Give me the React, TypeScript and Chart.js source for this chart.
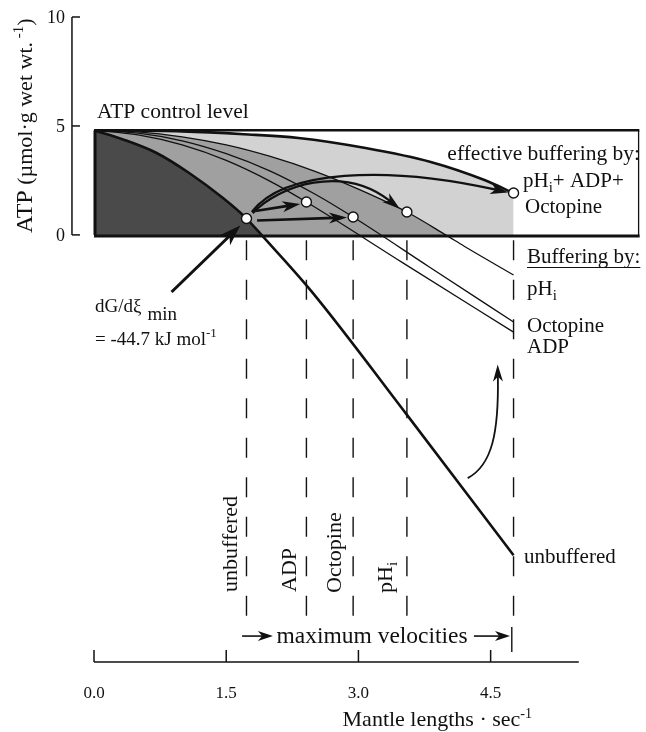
import React, { useEffect, useRef } from "react";
import { Chart, registerables } from "chart.js";

Chart.register(...registerables);

type Pt = { x: number; y: number };

// ---- data (x: mantle lengths · sec^-1, y: ATP µmol·g wet wt^-1) ----
const unbufferedCurve: Pt[] = [
  { x: 0, y: 4.8 }, { x: 0.33, y: 4.38 }, { x: 0.71, y: 3.76 }, { x: 1.08, y: 2.84 },
  { x: 1.46, y: 1.7 }, { x: 1.73, y: 0.75 }, { x: 1.9, y: 0 }, { x: 2.47, y: -2.6 },
  { x: 3.54, y: -8.2 }, { x: 4.76, y: -14.7 },
];
const adpCurve: Pt[] = [
  { x: 0, y: 4.8 }, { x: 0.5, y: 4.59 }, { x: 1.0, y: 4.13 }, { x: 1.5, y: 3.42 },
  { x: 2.0, y: 2.46 }, { x: 2.41, y: 1.51 }, { x: 3.5, y: -1.27 }, { x: 4.76, y: -4.46 },
];
const octopineCurve: Pt[] = [
  { x: 0, y: 4.8 }, { x: 0.5, y: 4.67 }, { x: 1.0, y: 4.32 }, { x: 1.5, y: 3.73 },
  { x: 2.0, y: 2.93 }, { x: 2.5, y: 1.89 }, { x: 2.94, y: 0.82 }, { x: 3.8, y: -1.46 },
  { x: 4.76, y: -4.0 },
];
const phiCurve: Pt[] = [
  { x: 0, y: 4.8 }, { x: 0.5, y: 4.73 }, { x: 1.0, y: 4.5 }, { x: 1.5, y: 4.13 },
  { x: 2.0, y: 3.6 }, { x: 2.5, y: 2.93 }, { x: 3.0, y: 2.1 }, { x: 3.55, y: 1.05 },
  { x: 3.99, y: 0 }, { x: 4.2, y: -0.52 }, { x: 4.76, y: -1.84 },
];
const effectiveCurve: Pt[] = [
  { x: 0, y: 4.8 }, { x: 1.0, y: 4.75 }, { x: 1.7, y: 4.62 }, { x: 2.32, y: 4.45 },
  { x: 3.08, y: 3.99 }, { x: 3.82, y: 3.35 }, { x: 4.43, y: 2.52 }, { x: 4.76, y: 1.92 },
];
const minimumPoints: Pt[] = [
  { x: 1.73, y: 0.75 }, { x: 2.41, y: 1.51 }, { x: 2.94, y: 0.82 }, { x: 3.55, y: 1.05 }, { x: 4.76, y: 1.92 },
];
const atpControlLevel = 4.8;
const boxRightX = 6.19;
const atpControlLine: Pt[] = [{ x: 0, y: atpControlLevel }, { x: boxRightX, y: atpControlLevel }];
const maxVelocities = [1.73, 2.41, 2.94, 3.55, 4.76];
const maxVelocityLabels = ["unbuffered", "ADP", "Octopine", "pHi"];
const xTicks = [0, 1.5, 3.0, 4.5];
const xTickLabels = ["0.0", "1.5", "3.0", "4.5"];
const yTicks = [0, 5, 10];
const yTickLabels = ["0", "5", "10"];

// ---- layout / styles ----
const W = 646;
const H = 732;
const SERIF = "'Liberation Serif', 'Times New Roman', serif";
const INK = "#111";
const LIGHT = "#d2d2d2";
const MEDIUM = "#a0a0a0";
const DARK = "#4a4a4a";

type Run = { t: string; s: number; dy?: number };
function runsWidth(ctx: CanvasRenderingContext2D, runs: Run[]) {
  let w = 0;
  for (const r of runs) {
    ctx.font = `${r.s}px ${SERIF}`;
    w += ctx.measureText(r.t).width;
  }
  return w;
}
function drawRuns(ctx: CanvasRenderingContext2D, x: number, y: number, runs: Run[]) {
  let cx = x;
  ctx.textAlign = "left";
  ctx.textBaseline = "alphabetic";
  for (const r of runs) {
    ctx.font = `${r.s}px ${SERIF}`;
    ctx.fillText(r.t, cx, y + (r.dy || 0));
    cx += ctx.measureText(r.t).width;
  }
  return cx;
}
function head(ctx: CanvasRenderingContext2D, x: number, y: number, ang: number, len: number, half: number) {
  ctx.save();
  ctx.translate(x, y);
  ctx.rotate(ang);
  ctx.beginPath();
  ctx.moveTo(0, 0);
  ctx.lineTo(-len, -half);
  ctx.lineTo(-len * 0.72, 0);
  ctx.lineTo(-len, half);
  ctx.closePath();
  ctx.fill();
  ctx.restore();
}
function straightArrow(ctx: CanvasRenderingContext2D, x0: number, y0: number, x1: number, y1: number, w: number, len: number, half: number) {
  const a = Math.atan2(y1 - y0, x1 - x0);
  ctx.lineWidth = w;
  ctx.beginPath();
  ctx.moveTo(x0, y0);
  ctx.lineTo(x1 - Math.cos(a) * len * 0.7, y1 - Math.sin(a) * len * 0.7);
  ctx.stroke();
  head(ctx, x1, y1, a, len, half);
}
function curvedArrow(ctx: CanvasRenderingContext2D, p: number[][], w: number, len: number, half: number) {
  const [p0, p1, p2, p3] = p;
  const a = Math.atan2(p3[1] - p2[1], p3[0] - p2[0]);
  const dx = Math.cos(a) * len * 0.7, dy = Math.sin(a) * len * 0.7;
  ctx.lineWidth = w;
  ctx.beginPath();
  ctx.moveTo(p0[0], p0[1]);
  ctx.bezierCurveTo(p1[0], p1[1], p2[0] - dx, p2[1] - dy, p3[0] - dx, p3[1] - dy);
  ctx.stroke();
  head(ctx, p3[0], p3[1], a, len, half);
}

// annotation geometry in data units
const arcToEffective = [[1.79, 1.05], [2.15, 2.98], [3.45, 3.07], [4.70, 1.95]];
const arcToPhi = [[1.80, 1.0], [2.10, 2.29], [2.94, 2.89], [3.47, 1.20]];
const arrowToAdp = [[1.83, 1.10], [2.34, 1.42]];
const arrowToOctopine = [[1.85, 0.66], [2.87, 0.80]];
const arrowFromLabel = [[0.88, -2.62], [1.66, 0.43]];
const arcUp = [[4.24, -11.16], [4.52, -10.56], [4.59, -8.49], [4.58, -5.95]];

const diagramPlugin = {
  id: "diagram",
  beforeDraw(chart: any) {
    const ctx = chart.ctx;
    ctx.save();
    ctx.fillStyle = "#fff";
    ctx.fillRect(0, 0, chart.width, chart.height);
    ctx.restore();
  },
  beforeDatasetsDraw(chart: any) {
    const ctx: CanvasRenderingContext2D = chart.ctx;
    const X = (v: number) => chart.scales.x.getPixelForValue(v);
    const Y = (v: number) => chart.scales.y.getPixelForValue(v);
    const P = (arr: number[][]) => arr.map((q) => [X(q[0]), Y(q[1])]);
    ctx.save();
    ctx.strokeStyle = INK;
    ctx.fillStyle = INK;
    ctx.lineCap = "butt";
    curvedArrow(ctx, P(arcToEffective), 2.3, 18, 5.5);
    curvedArrow(ctx, P(arcToPhi), 2.3, 18, 5.5);
    let s = P(arrowToAdp);
    straightArrow(ctx, s[0][0], s[0][1], s[1][0], s[1][1], 2.6, 18, 5.5);
    s = P(arrowToOctopine);
    straightArrow(ctx, s[0][0], s[0][1], s[1][0], s[1][1], 2.6, 18, 5.5);
    ctx.restore();
  },
  afterDatasetsDraw(chart: any) {
    const ctx: CanvasRenderingContext2D = chart.ctx;
    const X = (v: number) => chart.scales.x.getPixelForValue(v);
    const Y = (v: number) => chart.scales.y.getPixelForValue(v);
    const P = (arr: number[][]) => arr.map((q) => [X(q[0]), Y(q[1])]);
    ctx.save();
    ctx.strokeStyle = INK;
    ctx.fillStyle = INK;

    // box edges
    ctx.lineWidth = 3;
    ctx.beginPath();
    ctx.moveTo(X(0) + 1, Y(atpControlLevel));
    ctx.lineTo(X(0) + 1, Y(0));
    ctx.stroke();
    ctx.beginPath();
    ctx.moveTo(X(0), Y(0) + 1);
    ctx.lineTo(X(boxRightX), Y(0) + 1);
    ctx.stroke();
    ctx.lineWidth = 1.3;
    ctx.beginPath();
    ctx.moveTo(X(boxRightX) - 1, Y(atpControlLevel));
    ctx.lineTo(X(boxRightX) - 1, Y(0) + 2);
    ctx.stroke();

    // dashed maximum-velocity lines
    ctx.lineWidth = 1.4;
    ctx.setLineDash([20, 19.5]);
    for (const v of maxVelocities) {
      ctx.beginPath();
      ctx.moveTo(X(v), Y(-0.25));
      ctx.lineTo(X(v), Y(-17.5));
      ctx.stroke();
    }
    ctx.setLineDash([]);

    // arrows outside the box
    const e = P(arrowFromLabel);
    straightArrow(ctx, e[0][0], e[0][1], e[1][0], e[1][1], 3, 21, 7);
    curvedArrow(ctx, P(arcUp), 1.8, 17, 5);

    // y axis
    ctx.lineWidth = 1.5;
    const yAxX = X(-0.25);
    ctx.beginPath();
    ctx.moveTo(yAxX, Y(10));
    ctx.lineTo(yAxX, Y(0));
    ctx.stroke();
    for (const t of yTicks) {
      ctx.beginPath();
      ctx.moveTo(yAxX, Y(t));
      ctx.lineTo(yAxX + 8, Y(t));
      ctx.stroke();
    }
    ctx.font = `18px ${SERIF}`;
    ctx.textAlign = "right";
    ctx.textBaseline = "middle";
    yTicks.forEach((t, i) => ctx.fillText(yTickLabels[i], yAxX - 7, Y(t) + 1));

    // x axis
    const xAxY = Y(-19.6);
    ctx.beginPath();
    ctx.moveTo(X(0), xAxY);
    ctx.lineTo(X(5.5), xAxY);
    ctx.stroke();
    for (const t of xTicks) {
      ctx.beginPath();
      ctx.moveTo(X(t), xAxY);
      ctx.lineTo(X(t), xAxY - 12);
      ctx.stroke();
    }
    ctx.font = `17px ${SERIF}`;
    ctx.textAlign = "center";
    ctx.textBaseline = "alphabetic";
    xTicks.forEach((t, i) => ctx.fillText(xTickLabels[i], X(t), xAxY + 36));

    // maximum velocities bar
    const mvY = Y(-18.41);
    straightArrow(ctx, X(1.68), mvY, X(2.03), mvY, 1.6, 15, 5);
    straightArrow(ctx, X(4.31), mvY, X(4.72), mvY, 1.6, 15, 5);
    ctx.lineWidth = 1.4;
    ctx.beginPath();
    ctx.moveTo(X(4.74), Y(-17.99));
    ctx.lineTo(X(4.74), Y(-19.14));
    ctx.stroke();
    drawRuns(ctx, X(2.07), mvY + 7, [{ t: "maximum velocities", s: 23.5 }]);

    // x title
    const xt: Run[] = [{ t: "Mantle lengths · sec", s: 22 }, { t: "-1", s: 14, dy: -8 }];
    drawRuns(ctx, 532 - runsWidth(ctx, xt), 726, xt);

    // y title (rotated)
    ctx.save();
    ctx.translate(32, 233);
    ctx.rotate(-Math.PI / 2);
    drawRuns(ctx, 0, 0, [
      { t: "ATP", s: 24 },
      { t: " (µmol·g wet wt.", s: 22 },
      { t: " -1", s: 15, dy: -9 },
      { t: ")", s: 22 },
    ]);
    ctx.restore();

    // rotated max-velocity labels
    const rot = [
      { x: X(1.73) - 9, y: 592, runs: [{ t: maxVelocityLabels[0], s: 22 }] },
      { x: X(2.41) - 10, y: 592, runs: [{ t: maxVelocityLabels[1], s: 22 }] },
      { x: X(2.94) - 12, y: 593, runs: [{ t: maxVelocityLabels[2], s: 22 }] },
      { x: X(3.55) - 15, y: 593, runs: [{ t: "pH", s: 22 }, { t: "i", s: 15, dy: 5 }] },
    ];
    for (const r of rot) {
      ctx.save();
      ctx.translate(r.x, r.y);
      ctx.rotate(-Math.PI / 2);
      drawRuns(ctx, 0, 0, r.runs as Run[]);
      ctx.restore();
    }

    // texts
    drawRuns(ctx, 97, 118, [{ t: "ATP control level", s: 21.5 }]);
    const eb: Run[] = [{ t: "effective buffering by:", s: 21.5 }];
    drawRuns(ctx, 640 - runsWidth(ctx, eb), 160, eb);
    drawRuns(ctx, 523, 187, [{ t: "pH", s: 21 }, { t: "i", s: 15, dy: 5 }, { t: "+ ADP+", s: 21 }]);
    drawRuns(ctx, 525, 213, [{ t: "Octopine", s: 21 }]);
    const bEnd = drawRuns(ctx, 527, 263, [{ t: "Buffering by:", s: 21 }]);
    ctx.lineWidth = 1;
    ctx.beginPath();
    ctx.moveTo(527, 267.5);
    ctx.lineTo(bEnd, 267.5);
    ctx.stroke();
    drawRuns(ctx, 527, 295, [{ t: "pH", s: 21 }, { t: "i", s: 15, dy: 5 }]);
    drawRuns(ctx, 527, 332, [{ t: "Octopine", s: 21 }]);
    drawRuns(ctx, 527, 353, [{ t: "ADP", s: 21 }]);
    drawRuns(ctx, 524, 563, [{ t: "unbuffered", s: 21 }]);

    const dg = drawRuns(ctx, 95, 312, [{ t: "dG/dξ", s: 19 }]);
    drawRuns(ctx, dg + 6, 320, [{ t: "min", s: 19 }]);
    drawRuns(ctx, 95, 345, [{ t: "= -44.7 kJ mol", s: 19 }, { t: "-1", s: 13, dy: -8 }]);

    ctx.restore();
  },
};

function fillDs(data: Pt[], color: string, order: number) {
  return {
    data,
    fill: "origin",
    backgroundColor: color,
    borderColor: "rgba(0,0,0,0)",
    borderWidth: 0,
    pointRadius: 0,
    cubicInterpolationMode: "monotone",
    order,
  };
}
function lineDs(data: Pt[], width: number, order: number, smooth = true) {
  return {
    data,
    fill: false,
    borderColor: INK,
    borderWidth: width,
    pointRadius: 0,
    cubicInterpolationMode: smooth ? "monotone" : "default",
    tension: 0,
    order,
  };
}

export default function App() {
  const ref = useRef<HTMLCanvasElement>(null);
  useEffect(() => {
    const canvas = ref.current as HTMLCanvasElement;
    const chart = new Chart(canvas, {
      type: "line",
      data: {
        datasets: [
          fillDs(effectiveCurve, LIGHT, 30),
          fillDs(phiCurve.filter((p) => p.y >= 0), MEDIUM, 20),
          fillDs(unbufferedCurve.filter((p) => p.y >= 0), DARK, 10),
          lineDs(atpControlLine, 2.4, 7, false),
          lineDs(effectiveCurve, 2.6, 6),
          lineDs(phiCurve, 1.3, 5),
          lineDs(octopineCurve, 1.3, 4),
          lineDs(adpCurve, 1.3, 3),
          lineDs(unbufferedCurve, 2.6, 2),
          {
            data: minimumPoints,
            showLine: false,
            pointRadius: 5,
            pointBackgroundColor: "#fff",
            pointBorderColor: INK,
            pointBorderWidth: 1.4,
            order: 0,
          },
        ] as any,
      },
      options: {
        responsive: false,
        maintainAspectRatio: false,
        animation: false,
        devicePixelRatio: 1,
        events: [],
        layout: { padding: { left: 94, right: 3, top: 17, bottom: 70 } },
        scales: {
          x: { type: "linear", min: 0, max: boxRightX, display: false },
          y: { type: "linear", min: -19.6, max: 10, display: false },
        },
        plugins: {
          legend: { display: false },
          tooltip: { enabled: false },
          filler: { drawTime: "beforeDatasetsDraw", propagate: false },
        },
      } as any,
      plugins: [diagramPlugin],
    });
    return () => chart.destroy();
  }, []);
  return (
    <div style={{ position: "absolute", left: 0, top: 0, width: W, height: H }}>
      <canvas ref={ref} width={W} height={H} style={{ display: "block", width: W, height: H }} />
    </div>
  );
}
